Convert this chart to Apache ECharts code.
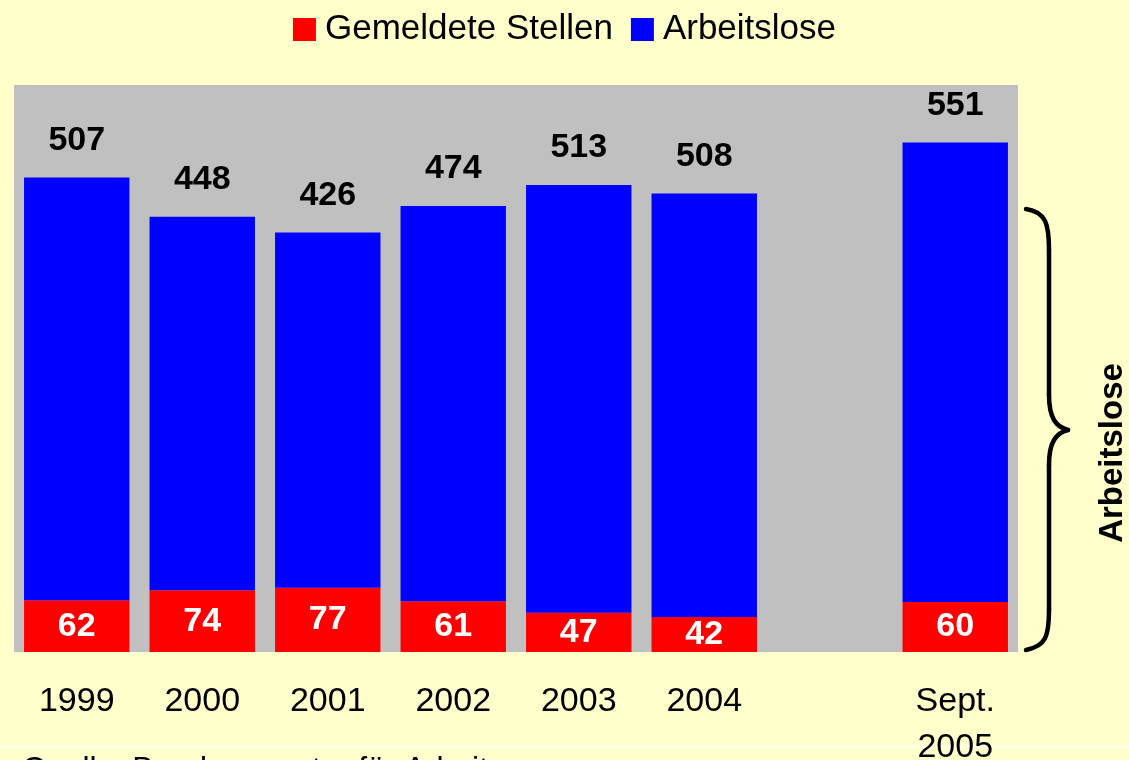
<!DOCTYPE html>
<html>
<head>
<meta charset="utf-8">
<script src="https://cdn.jsdelivr.net/npm/echarts@6/dist/echarts.min.js"></script>
<style>
  html, body { margin: 0; padding: 0; background: #FFFFCC; }
  #chart { width: 1129px; height: 760px; }
</style>
</head>
<body>
<div id="chart"></div>
<script>
// Jahre (leere Kategorie als Abstand vor Sept. 2005)
const categories = ['1999', '2000', '2001', '2002', '2003', '2004', '', 'Sept.\n2005'];
// Gemeldete Stellen (in Tausend)
const stellen = [62, 74, 77, 61, 47, 42, null, 60];
// Arbeitslose (in Tausend)
const arbeitslose = [507, 448, 426, 474, 513, 508, null, 551];

const FONT = '"Liberation Sans", Arial, sans-serif';

const chart = echarts.init(document.getElementById('chart'));

// geschweifte Klammer rechts: Kurven- und Geradenstücke
const braceStyle = { stroke: '#000', lineWidth: 4.5, fill: null, lineCap: 'round' };
const bez = (x1, y1, cx1, cy1, cx2, cy2, x2, y2) => ({
  type: 'bezierCurve',
  shape: { x1: x1, y1: y1, cpx1: cx1, cpy1: cy1, cpx2: cx2, cpy2: cy2, x2: x2, y2: y2 },
  style: braceStyle
});
const seg = (x1, y1, x2, y2) => ({
  type: 'line', shape: { x1: x1, y1: y1, x2: x2, y2: y2 }, style: braceStyle
});

chart.setOption({
  backgroundColor: '#FFFFCC',
  animation: false,
  textStyle: { fontFamily: FONT },
  legend: {
    top: 7,
    left: 'center',
    icon: 'rect',
    itemWidth: 23,
    itemHeight: 23,
    itemGap: 18,
    textStyle: { fontSize: 35, color: '#000', fontFamily: FONT, padding: [0, 0, 0, 4] },
    data: ['Gemeldete Stellen', 'Arbeitslose']
  },
  grid: {
    left: 14, right: 111, top: 85, bottom: 108,
    outerBoundsMode: 'none',
    containLabel: false,
    show: true, backgroundColor: '#C0C0C0', borderWidth: 0
  },
  xAxis: {
    type: 'category',
    data: categories,
    axisLine: { show: false },
    axisTick: { show: false },
    axisLabel: {
      color: '#000', fontSize: 34, fontFamily: FONT,
      margin: 27, lineHeight: 46, verticalAlign: 'top', interval: 0
    }
  },
  yAxis: {
    type: 'value', min: 0, max: 680,
    show: false, splitLine: { show: false }
  },
  series: [
    {
      name: 'Gemeldete Stellen',
      type: 'bar',
      stack: 'gesamt',
      data: stellen,
      barCategoryGap: '16%',
      itemStyle: { color: '#FF0000' },
      label: {
        show: true, position: 'inside', color: '#fff',
        fontSize: 34, fontWeight: 'bold', fontFamily: FONT
      }
    },
    {
      name: 'Arbeitslose',
      type: 'bar',
      stack: 'gesamt',
      data: arbeitslose,
      barCategoryGap: '16%',
      itemStyle: { color: '#0000FF' },
      label: {
        show: true, position: 'top', distance: 20, color: '#000',
        fontSize: 34, fontWeight: 'bold', fontFamily: FONT
      }
    }
  ],
  graphic: [
    bez(1026, 209, 1046, 212, 1049, 224, 1049, 250),
    seg(1049, 250, 1049, 395),
    bez(1049, 395, 1049, 418, 1056, 427, 1068, 430),
    bez(1068, 430, 1056, 433, 1049, 442, 1049, 465),
    seg(1049, 465, 1049, 610),
    bez(1049, 610, 1049, 636, 1046, 646, 1026, 650),
    {
      type: 'text',
      x: 1113, y: 453,
      rotation: Math.PI / 2,
      style: {
        text: 'Arbeitslose', fill: '#000', fontSize: 33, fontWeight: 'bold',
        fontFamily: FONT, align: 'center', verticalAlign: 'middle'
      }
    },
    {
      type: 'rect',
      shape: { x: 0, y: 746, width: 1129, height: 1.5 },
      style: { fill: '#FFFFFF' }
    },
    {
      type: 'text',
      x: 22, y: 754,
      style: {
        text: 'Quelle: Bundesagentur für Arbeit', fill: '#000', fontSize: 32,
        fontFamily: FONT, verticalAlign: 'top'
      }
    }
  ]
});
</script>
</body>
</html>
